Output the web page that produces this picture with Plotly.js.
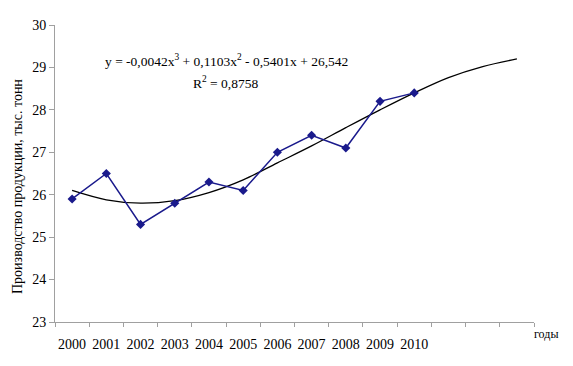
<!DOCTYPE html>
<html>
<head>
<meta charset="utf-8">
<script src="https://cdn.plot.ly/plotly-3.0.1.min.js"></script>
<style>html,body{margin:0;padding:0;background:#fff;}#chart{width:573px;height:366px;}</style>
</head>
<body>
<div id="chart"></div>
<script>
// Data
var years = ['2000','2001','2002','2003','2004','2005','2006','2007','2008','2009','2010'];
var periods = [1,2,3,4,5,6,7,8,9,10,11];
var production = [25.9, 26.5, 25.3, 25.8, 26.3, 26.1, 27.0, 27.4, 27.1, 28.2, 28.4];
// Polynomial trend line as drawn (extends 3 periods ahead)
var trendPeriods = [1,2,3,4,5,6,7,8,9,10,11,12,13,14];
var trendValues = [26.1, 25.88, 25.8, 25.86, 26.05, 26.35, 26.75, 27.15, 27.58, 28.0, 28.4, 28.76, 29.02, 29.2];
var boundaryTicks = [0.5,1.5,2.5,3.5,4.5,5.5,6.5,7.5,8.5,9.5,10.5,11.5,12.5,13.5,14.5];
var yTicks = [23,24,25,26,27,28,29,30];

var serif = '"Liberation Serif", serif';
var axisGray = '#a0a0a0';

var traces = [
  {x: [0.5, 14.5], y: [null, null], xaxis: 'x2', yaxis: 'y', type: 'scatter', mode: 'lines', showlegend: false, hoverinfo: 'skip'},
  {
    x: trendPeriods, y: trendValues, type: 'scatter', mode: 'lines',
    line: {color: '#000000', width: 1.3, shape: 'spline'},
    hoverinfo: 'skip', showlegend: false
  },
  {
    x: periods, y: production, type: 'scatter', mode: 'lines+markers',
    line: {color: '#1a1a8c', width: 1.5},
    marker: {symbol: 'diamond', size: 7, color: '#1a1a8c'},
    showlegend: false
  }
];

var layout = {
  width: 573, height: 366,
  margin: {l: 55, r: 39, t: 25, b: 44},
  paper_bgcolor: '#ffffff', plot_bgcolor: '#ffffff',
  font: {family: serif, color: '#000000', size: 14},
  xaxis: {
    range: [0.5, 14.5], tickmode: 'array', tickvals: periods, ticktext: years,
    ticks: 'outside', ticklen: 9, tickcolor: 'rgba(0,0,0,0)',
    showline: true, linecolor: axisGray, linewidth: 1,
    showgrid: false, zeroline: false,
    tickfont: {family: serif, size: 14, color: '#000'}
  },
  xaxis2: {
    overlaying: 'x', anchor: 'y', side: 'bottom', matches: 'x',
    range: [0.5, 14.5], tickmode: 'array', tickvals: boundaryTicks,
    ticks: 'outside', ticklen: 4, tickcolor: axisGray, tickwidth: 1,
    showticklabels: false, showline: false, showgrid: false, zeroline: false
  },
  yaxis: {
    range: [23, 30], tickmode: 'array', tickvals: yTicks,
    ticks: 'outside', ticklen: 5, tickcolor: axisGray,
    showline: true, linecolor: axisGray, linewidth: 1,
    showgrid: false, zeroline: false,
    tickfont: {family: serif, size: 14, color: '#000'}
  },
  annotations: [
    {
      xref: 'paper', yref: 'paper', x: -55/479 + 17/479, y: (322-187)/297,
      text: 'Производство продукции, тыс. тонн', textangle: -90,
      showarrow: false, xanchor: 'center', yanchor: 'middle',
      font: {family: serif, size: 14, color: '#000'}
    },
    {
      xref: 'paper', yref: 'paper', x: (226-55)/479, y: (322-60)/297,
      text: 'y = -0,0042x<sup>3</sup> + 0,1103x<sup>2</sup> - 0,5401x + 26,542',
      showarrow: false, xanchor: 'center', yanchor: 'middle',
      font: {family: serif, size: 13.5, color: '#000'}
    },
    {
      xref: 'paper', yref: 'paper', x: (225-55)/479, y: (322-82)/297,
      text: 'R<sup>2</sup> = 0,8758',
      showarrow: false, xanchor: 'center', yanchor: 'middle',
      font: {family: serif, size: 13.5, color: '#000'}
    },
    {
      xref: 'paper', yref: 'paper', x: (546-55)/479, y: (322-334)/297,
      text: 'годы',
      showarrow: false, xanchor: 'center', yanchor: 'middle',
      font: {family: serif, size: 12, color: '#000'}
    }
  ]
};

Plotly.newPlot('chart', traces, layout, {displayModeBar: false, staticPlot: true});
</script>
</body>
</html>
